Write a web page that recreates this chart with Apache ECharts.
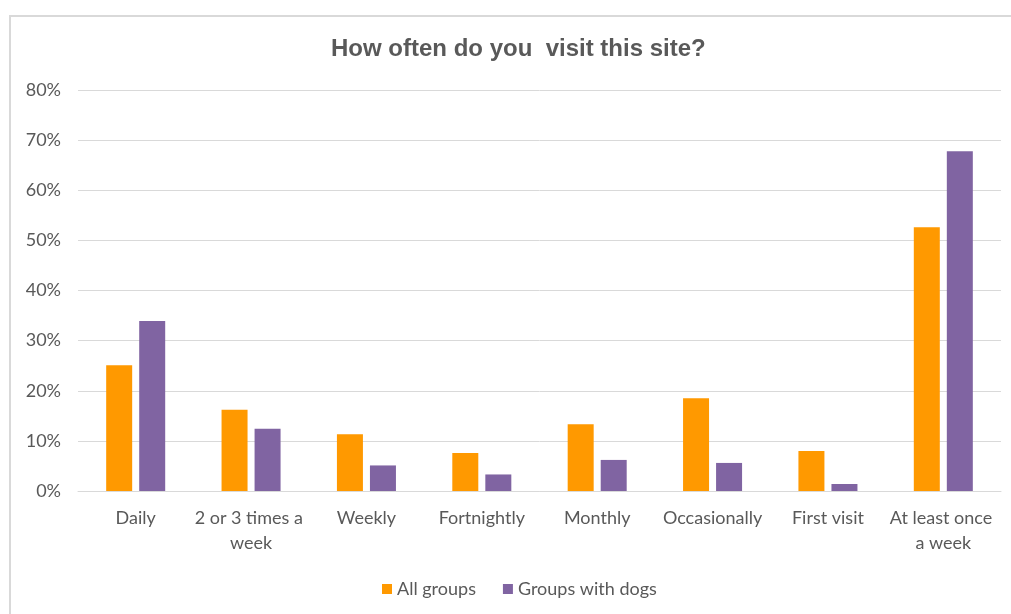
<!DOCTYPE html>
<html>
<head>
<meta charset="utf-8">
<script src="https://cdn.jsdelivr.net/npm/echarts@6/dist/echarts.min.js"></script>
<style>
  html, body { margin: 0; padding: 0; background: #ffffff; overflow: hidden; }
  #frame {
    position: absolute; left: 9px; top: 15px; width: 1040px; height: 640px;
    border: 2px solid #d9d9d9; box-sizing: border-box;
  }
  #chart { position: absolute; left: 0; top: 0; width: 1011px; height: 614px; }
</style>
</head>
<body>
<div id="frame"></div>
<div id="chart"></div>
<script>
// Visit frequency categories
const categories = [
  'Daily', '2 or 3 times a week', 'Weekly', 'Fortnightly',
  'Monthly', 'Occasionally', 'First visit', 'At least once a week'
];
// Share of respondents (%)
const allGroups = [25.1, 16.2, 11.3, 7.6, 13.3, 18.5, 8.0, 52.6];
const groupsWithDogs = [33.9, 12.4, 5.1, 3.3, 6.2, 5.6, 1.4, 67.8];
const seriesNames = ['All groups', 'Groups with dogs'];
const yTicks = { min: 0, max: 80, interval: 10 };

const textColor = '#595959';
const font = 'Lato, "Open Sans", sans-serif';

const chart = echarts.init(document.getElementById('chart'), null, { renderer: 'canvas' });
chart.setOption({
  animation: false,
  backgroundColor: 'transparent',
  title: {
    text: 'How often do you  visit this site?',
    left: 331,
    top: 37,
    padding: 0,
    textStyle: {
      fontFamily: '"Liberation Sans", Arial, sans-serif',
      fontSize: 24,
      fontWeight: 'bold',
      color: textColor
    }
  },
  legend: {
    bottom: 11,
    left: 377,
    itemWidth: 10,
    itemHeight: 10,
    itemGap: 27,
    icon: 'rect',
    textStyle: { fontFamily: font, fontSize: 18, color: textColor },
    data: seriesNames
  },
  grid: { left: 78, right: 10, top: 90, bottom: 123, containLabel: false },
  xAxis: {
    type: 'category',
    data: categories,
    axisLine: { lineStyle: { color: '#d9d9d9', width: 1 } },
    axisTick: { show: false },
    axisLabel: {
      fontFamily: font, fontSize: 18, color: textColor,
      margin: 15, lineHeight: 25, interval: 0,
      width: 113, overflow: 'break'
    }
  },
  yAxis: {
    type: 'value',
    min: yTicks.min,
    max: yTicks.max,
    interval: yTicks.interval,
    axisLine: { show: false },
    axisTick: { show: false },
    splitLine: { lineStyle: { color: '#d9d9d9', width: 1 } },
    axisLabel: {
      fontFamily: font, fontSize: 18, color: textColor, margin: 17,
      formatter: v => v + '%'
    }
  },
  series: [
    {
      name: seriesNames[0], type: 'bar', data: allGroups,
      itemStyle: { color: '#ff9900' },
      barWidth: 26, barGap: '27%'
    },
    {
      name: seriesNames[1], type: 'bar', data: groupsWithDogs,
      itemStyle: { color: '#8064a2' },
      barWidth: 26, barGap: '27%'
    }
  ]
});
</script>
</body>
</html>
